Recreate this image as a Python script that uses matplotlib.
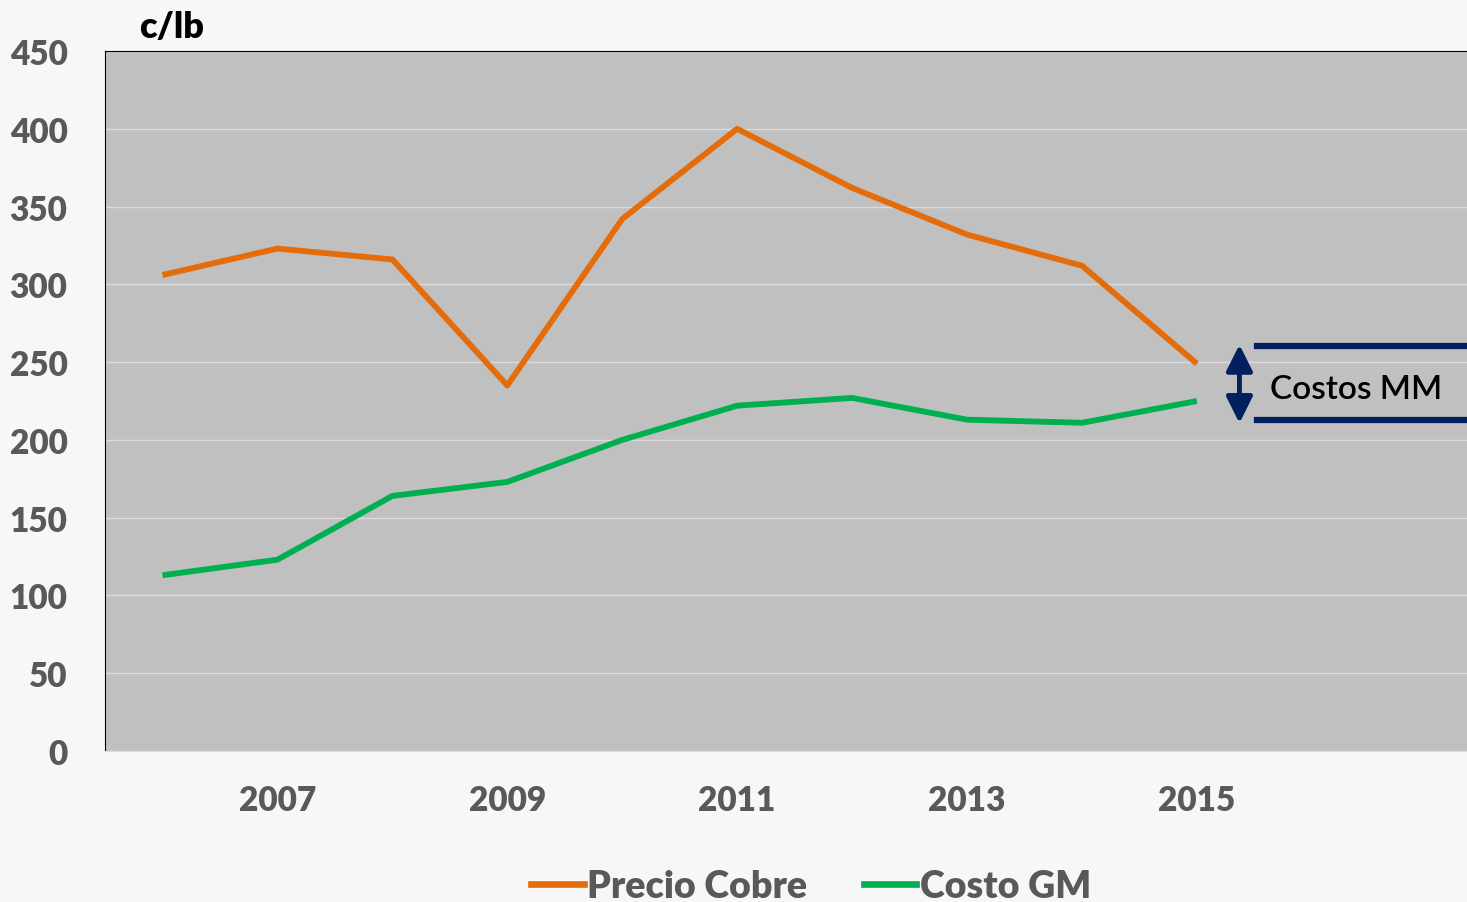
import matplotlib.pyplot as plt
from matplotlib.lines import Line2D

years = [2006, 2007, 2008, 2009, 2010, 2011, 2012, 2013, 2014, 2015]
precio_cobre = [306, 323, 316, 235, 342, 400, 362, 332, 312, 249]
costo_gm = [113, 123, 164, 173, 200, 222, 227, 213, 211, 225]
xticks = [2007, 2009, 2011, 2013, 2015]
yticks = [0, 50, 100, 150, 200, 250, 300, 350, 400, 450]

plt.rcParams['font.family'] = ['Lato', 'DejaVu Sans']

fig = plt.figure(figsize=(14.67, 9.03), dpi=100, facecolor='#f7f7f7')
ax = fig.add_axes([0.0716, 0.1672, 0.9284, 0.7752])
ax.set_facecolor('#c0c0c0')

ax.plot(years, precio_cobre, color='#e46c0a', lw=4.2, solid_capstyle='butt', label='Precio Cobre')
ax.plot(years, costo_gm, color='#00b050', lw=4.2, solid_capstyle='butt', label='Costo GM')

ax.set_xlim(2005.5, 2017.35)
ax.set_ylim(0, 450)
ax.set_xticks(xticks)
ax.set_yticks(yticks)
ax.grid(axis='y', color='#dcdcdc', lw=1)
ax.set_axisbelow(True)
ax.tick_params(length=0, labelsize=24, labelcolor='#595959')
ax.tick_params(axis='y', pad=27)
ax.tick_params(axis='x', pad=24)
for lbl in ax.get_xticklabels() + ax.get_yticklabels():
    lbl.set_fontweight('heavy')
ax.spines['right'].set_visible(False)
ax.spines['bottom'].set_color('#dcdcdc')
ax.spines['left'].set_color('black')
ax.spines['top'].set_color('black')

ax.text(2005.8, 455, 'c/lb', fontsize=26, fontweight='heavy', color='black', va='bottom', ha='left')

# Costos MM annotation
ax.annotate('', xy=(2015.37, 209), xytext=(2015.37, 263),
            arrowprops=dict(arrowstyle='<|-|>', color='#002060', lw=3.5, mutation_scale=40))
ax.plot([2015.52, 2017.35], [260.3, 260.3], color='#002060', lw=4.5, clip_on=False)
ax.plot([2015.52, 2017.35], [212.7, 212.7], color='#002060', lw=4.5, clip_on=False)
ax.text(2015.64, 232.5, 'Costos MM', fontsize=24, fontweight='semibold', color='black', va='center', ha='left')

handles = [Line2D([], [], color='#e46c0a', lw=4.8), Line2D([], [], color='#00b050', lw=4.8)]
leg = fig.legend(handles, ['Precio Cobre', 'Costo GM'], loc='center', bbox_to_anchor=(0.553, 0.018),
                 ncol=2, frameon=False, fontsize=27, handlelength=1.4, handletextpad=0.1, columnspacing=1.5)
for t in leg.get_texts():
    t.set_color('#595959')
    t.set_fontweight('heavy')

fig.savefig('out.png', dpi=100, facecolor=fig.get_facecolor())
